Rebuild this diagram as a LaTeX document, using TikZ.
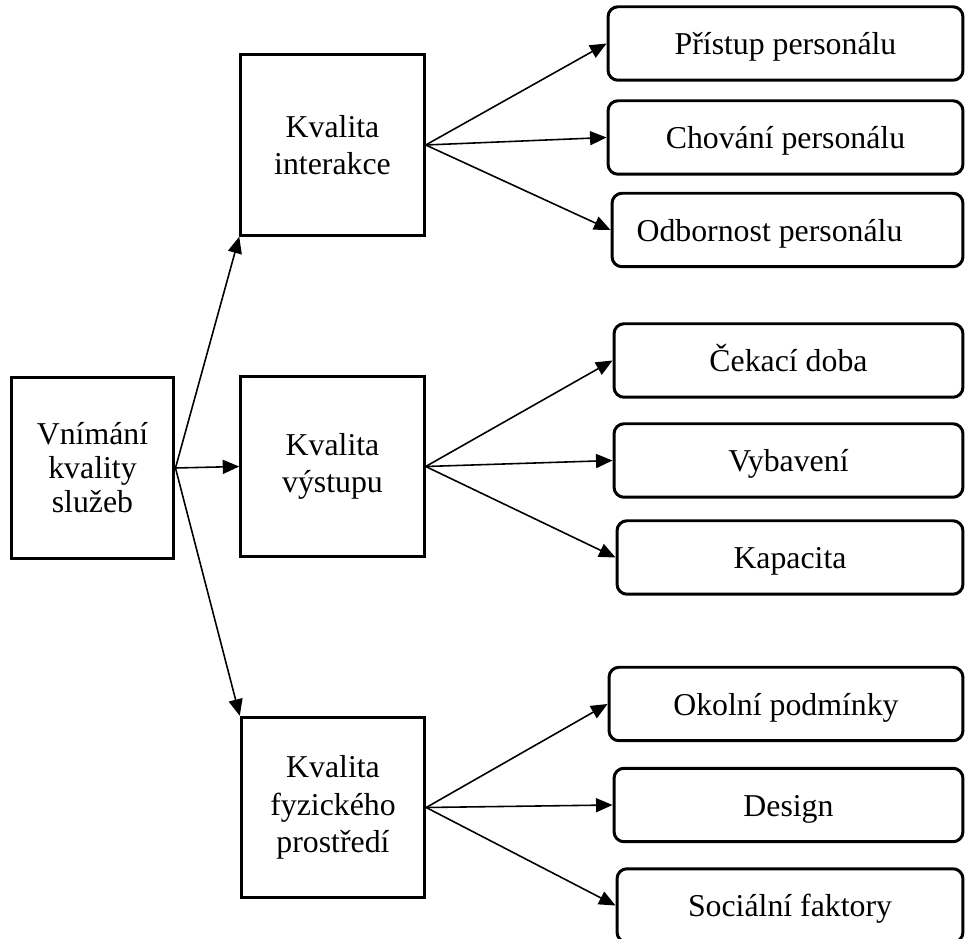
\documentclass[tikz,border=0pt]{standalone}
\usepackage{fontspec}
\setmainfont{Liberation Serif}
\usetikzlibrary{arrows.meta}
\begin{document}
\begin{tikzpicture}[x=0.02cm, y=-0.02cm,
  sqbox/.style={draw, line width=1.7pt, align=center, inner sep=0pt},
  leftbox/.style={sqbox, minimum width=3.26cm, minimum height=3.64cm,
    font=\fontsize{18.1}{19.3}\selectfont},
  midbox/.style={sqbox, minimum width=3.67cm, minimum height=3.61cm,
    font=\fontsize{18.1}{21.2}\selectfont},
  rbox/.style={draw, line width=1.7pt, rounded corners=0.2cm, inner sep=0pt,
    minimum height=1.47cm, text height=17pt, text depth=4pt,
    font=\fontsize{18.1}{21}\selectfont},
  conn/.style={line width=0.9pt, -{Triangle[length=0.33cm, width=0.28cm]}}]
  \useasboundingbox (0,0) rectangle (965,939);
  \clip (0,0) rectangle (965,939);

  % root
  \node[leftbox] (root) at (92.5,468) {Vnímání\\kvality\\služeb};

  % second level
  \node[midbox] (m1) at (332.5,145)   {Kvalita\\interakce};
  \node[midbox] (m2) at (332.5,466.5) {Kvalita\\výstupu};
  \node[midbox] (m3) at (333,807.5)   {Kvalita\\fyzického\\prostředí};

  % leaves: interaction
  \node[rbox, minimum width=7.10cm] (a1) at (785.5,43.5) {Přístup personálu};
  \node[rbox, minimum width=7.10cm] (a2) at (785.5,137.5) {Chování personálu};
  \node[rbox, minimum width=7.02cm,
    label={[xshift=-0.36cm, text height=17pt, text depth=4pt,
      font=\fontsize{18.1}{21}\selectfont]center:Odbornost personálu}]
    (a3) at (787.5,230) {};

  % leaves: output
  \node[rbox, minimum width=6.98cm] (b1) at (788.5,360.5) {Čekací doba};
  \node[rbox, minimum width=6.98cm] (b2) at (788.5,460.5) {Vybavení};
  \node[rbox, minimum width=6.92cm] (b3) at (790,557.5) {Kapacita};

  % leaves: physical environment
  \node[rbox, minimum width=7.08cm] (c1) at (786,704) {Okolní podmínky};
  \node[rbox, minimum width=6.98cm] (c2) at (788.5,805) {Design};
  \node[rbox, minimum width=6.92cm] (c3) at (790,905.5) {Sociální faktory};

  % connectors
  \draw[conn] (root.east) -- (m1.south west);
  \draw[conn] (root.east) -- (m2.west);
  \draw[conn] (root.east) -- (m3.north west);

  \foreach \t in {a1,a2,a3} \draw[conn] (m1.east) -- (\t.west);
  \foreach \t in {b1,b2,b3} \draw[conn] (m2.east) -- (\t.west);
  \foreach \t in {c1,c2,c3} \draw[conn] (m3.east) -- (\t.west);
\end{tikzpicture}
\end{document}
